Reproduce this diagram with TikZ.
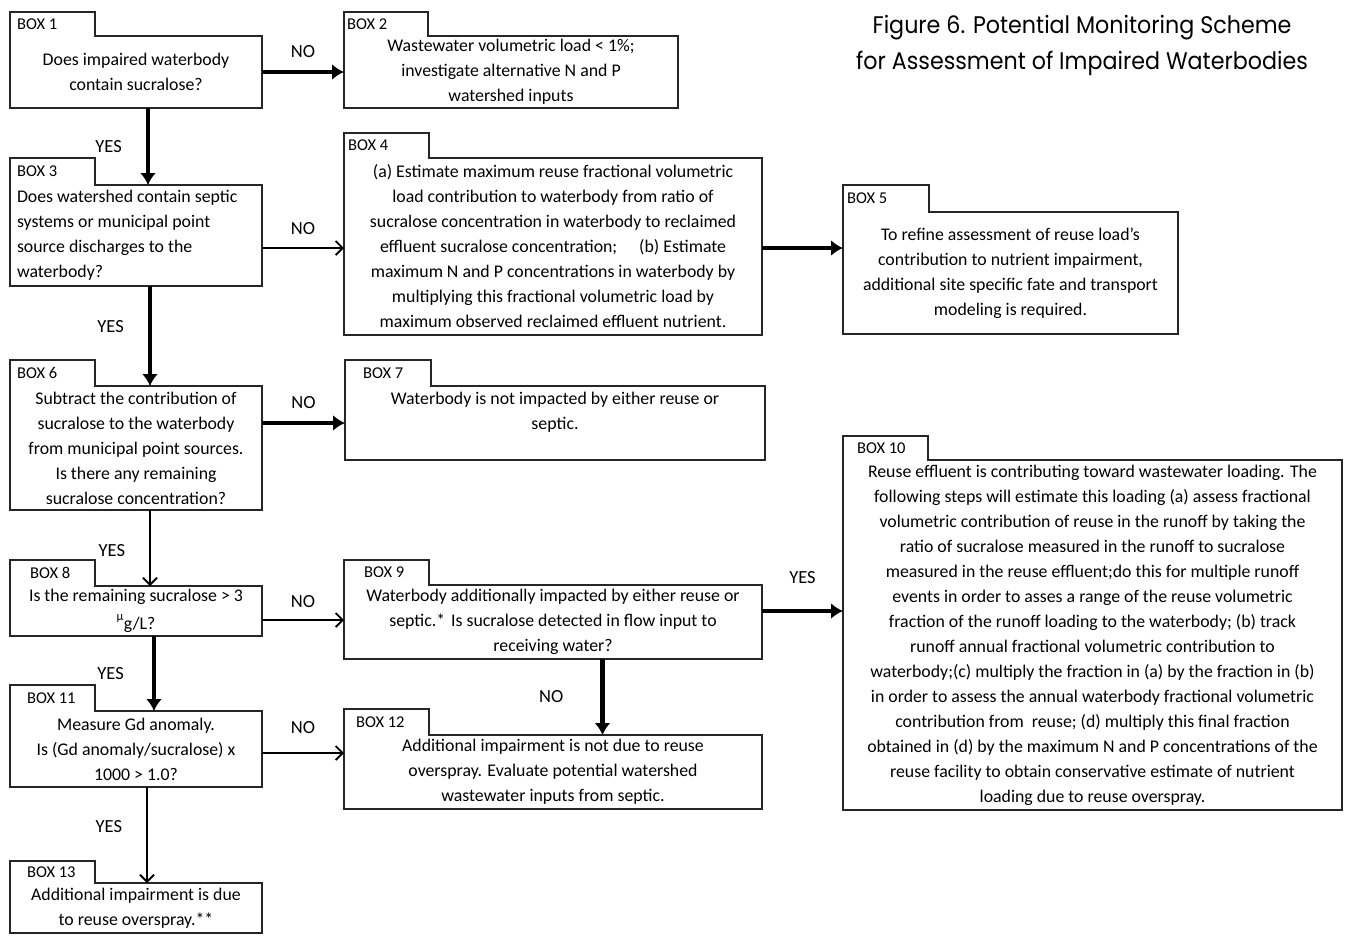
\documentclass[tikz,border=0pt]{standalone}
\usepackage{fontspec}
\setmainfont{Carlito}
\newfontfamily\titlefont{Poppins}
\usetikzlibrary{arrows.meta}
\tikzset{
 boxtext/.style={inner sep=0pt, outer sep=0pt, align=center, font=\fontsize{17.8}{25}\selectfont},
 boxline/.style={draw=black!85, line width=2.2pt, line join=miter},
 tablabel/.style={anchor=west, inner sep=0pt, font=\fontsize{16.5}{18}\selectfont},
 thickarrow/.style={line width=4.5pt, -{Latex[length=12pt,width=16pt]}},
 thinarrow/.style={line width=1.8pt, -{Straight Barb[length=7pt,width=14pt,line width=1.8pt]}},
 lbl/.style={font=\fontsize{18.5}{20}\selectfont, inner sep=0pt},
}
\newcommand\tabout[5]{%
 \draw[boxline] (#1.south west) -- ([yshift=#3]#1.north west) -- ([xshift=#2,yshift=#3]#1.north west) -- ([xshift=#2]#1.north west) -- (#1.north east) -- (#1.south east) -- cycle;
 \node[tablabel] at ([xshift=#4,yshift=#3/2]#1.north west) {#5};}
\begin{document}
\begin{tikzpicture}[x=1pt,y=-1pt]
\useasboundingbox (0,0) rectangle (1347,935);
\node[inner sep=0pt] (title) at (1082,44) {\titlefont\fontsize{24}{36}\selectfont\scalebox{0.925}[1]{\begin{tabular}{@{}c@{}}Figure 6. Potential Monitoring Scheme\\for Assessment of Impaired Waterbodies\end{tabular}}};

\node[boxtext, minimum width=252pt, minimum height=72pt] (b1) at (136,72) {Does impaired waterbody\\contain sucralose?};
\node[boxtext, minimum width=334pt, minimum height=72pt] (b2) at (511,72) {Wastewater volumetric load < 1\%;\\investigate alternative N and P\\watershed inputs};
\node[boxtext, minimum width=252pt, minimum height=101pt, text width=238pt, align=flush left] (b3) at (136,235.5) {Does watershed contain septic\\systems or municipal point\\source discharges to the\\waterbody?};
\node[boxtext, minimum width=418pt, minimum height=177pt] (b4) at (553,246.5) {(a) Estimate maximum reuse fractional volumetric\\load contribution to waterbody from ratio of\\sucralose concentration in waterbody to reclaimed\\effluent sucralose concentration;\hspace{22pt}(b) Estimate\\maximum N and P concentrations in waterbody by\\multiplying this fractional volumetric load by\\maximum observed reclaimed effluent nutrient.};
\node[boxtext, minimum width=335pt, minimum height=122pt] (b5) at (1010.5,273) {To refine assessment of reuse load's\\contribution to nutrient impairment,\\additional site specific fate and transport\\modeling is required.};
\node[boxtext, minimum width=252pt, minimum height=124pt] (b6) at (136,448) {Subtract the contribution of\\sucralose to the waterbody\\from municipal point sources.\\Is there any remaining\\sucralose concentration?};
\node[boxtext, minimum width=420pt, minimum height=74pt] (b7) at (555,423) {Waterbody is not impacted by either reuse or\\septic.\\\mbox{}};
\node[boxtext, minimum width=252pt, minimum height=50pt] (b8) at (136,611) {Is the remaining sucralose > 3\\\textsuperscript{µ}\raisebox{-3pt}{g/L?}};
\node[boxtext, minimum width=418pt, minimum height=74pt] (b9) at (553,622) {Waterbody additionally impacted by either reuse or\\septic.*\hspace{6pt}Is sucralose detected in flow input to\\receiving water?};
\node[boxtext, minimum width=499pt, minimum height=350pt] (b10) at (1092.5,635) {Reuse effluent is contributing toward wastewater loading. The\\following steps will estimate this loading (a) assess fractional\\volumetric contribution of reuse in the runoff by taking the\\ratio of sucralose measured in the runoff to sucralose\\measured in the reuse effluent;do this for multiple runoff\\events in order to asses a range of the reuse volumetric\\fraction of the runoff loading to the waterbody; (b) track\\runoff annual fractional volumetric contribution to\\waterbody;(c) multiply the fraction in (a) by the fraction in (b)\\in order to assess the annual waterbody fractional volumetric\\contribution from\hspace{4pt} reuse; (d) multiply this final fraction\\obtained in (d) by the maximum N and P concentrations of the\\reuse facility to obtain conservative estimate of nutrient\\loading due to reuse overspray.};
\node[boxtext, minimum width=252pt, minimum height=76pt] (b11) at (136,749) {Measure Gd anomaly.\\Is (Gd anomaly/sucralose) x\\1000 > 1.0?};
\node[boxtext, minimum width=418pt, minimum height=74pt] (b12) at (553,772) {Additional impairment is not due to reuse\\overspray. Evaluate potential watershed\\wastewater inputs from septic.};
\node[boxtext, minimum width=252pt, minimum height=50pt] (b13) at (136,908) {Additional impairment is due\\to reuse overspray.**};

\tabout{b1}{85}{24}{7}{BOX 1}
\tabout{b2}{84}{24}{3}{BOX 2}
\tabout{b3}{85}{27}{7}{BOX 3}
\tabout{b4}{85}{25}{4}{BOX 4}
\tabout{b5}{86}{27}{4}{BOX 5}
\tabout{b6}{85}{26}{7}{BOX 6}
\tabout{b7}{86}{26}{18}{BOX 7}
\tabout{b8}{85}{26}{20}{BOX 8}
\tabout{b9}{85}{25}{20}{BOX 9}
\tabout{b10}{85}{24}{14}{BOX 10}
\tabout{b11}{85}{26}{17}{BOX 11}
\tabout{b12}{85}{26}{12}{BOX 12}
\tabout{b13}{85}{22}{17}{BOX 13}

\draw[thickarrow] (b1.east) -- node[lbl, midway, above=12pt] {NO} (b2.west);
\draw[thinarrow] ([yshift=-1.5pt]b4.west -| b3.east) -- node[lbl, midway, above=12pt] {NO} ([yshift=-1.5pt]b4.west);
\draw[thickarrow] ([yshift=-1.5pt]b4.east) -- ([yshift=-1.5pt]b4.east -| b5.west);
\draw[thickarrow] (b7.west -| b6.east) -- node[lbl, midway, above=12pt] {NO} (b7.west);
\draw[thinarrow] ([yshift=2pt]b9.west -| b8.east) -- node[lbl, midway, above=11pt] {NO} ([yshift=2pt]b9.west);
\draw[thickarrow] ([yshift=11pt]b9.east) -- node[lbl, midway, above=25pt] {YES} ([yshift=11pt]b9.east -| b10.west);
\draw[thinarrow] ([yshift=-4pt]b11.east) -- node[lbl, midway, above=18pt] {NO} ([yshift=-4pt]b11.east -| b12.west);

\draw[thickarrow] ([xshift=12pt]b1.south) -- node[lbl, midway, left=24pt] {YES} ([xshift=12pt]b1.south |- b3.north);
\draw[thickarrow] ([xshift=14pt]b3.south) -- node[lbl, pos=0.41, left=24pt] {YES} ([xshift=14pt]b3.south |- b6.north);
\draw[thinarrow] ([xshift=14pt]b6.south) -- node[lbl, pos=0.53, left=24pt] {YES} ([xshift=14pt]b6.south |- b8.north);
\draw[thickarrow] ([xshift=18pt]b8.south) -- node[lbl, midway, left=28pt] {YES} ([xshift=18pt]b8.south |- b11.north);
\draw[thinarrow] ([xshift=11pt]b11.south) -- node[lbl, pos=0.41, left=24pt] {YES} ([xshift=11pt]b11.south |- b13.north);
\draw[thickarrow] ([xshift=49.5pt]b9.south) -- node[lbl, midway, left=37pt] {NO} ([xshift=49.5pt]b9.south |- b12.north);
\end{tikzpicture}
\end{document}
